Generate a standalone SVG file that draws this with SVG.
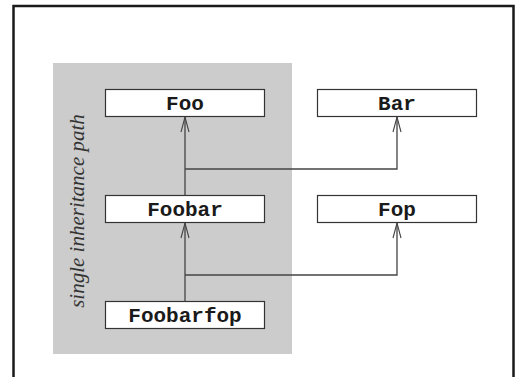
<svg xmlns="http://www.w3.org/2000/svg" width="520" height="377" viewBox="0 0 520 377">
  <style>
    .box { fill: #ffffff; stroke: #333333; stroke-width: 1.2; }
    .lbl { font-family: "Liberation Mono", "Courier New", monospace; font-weight: bold; font-size: 21px; fill: #1a1a1a; text-anchor: middle; }
    .edge { fill: none; stroke: #444444; stroke-width: 1.3; }
    .note { font-family: "Liberation Serif", "Times New Roman", serif; font-style: italic; font-size: 21px; fill: #333333; text-anchor: middle; }
  </style>
  <defs>
    <!-- open V arrowhead, tip at the path end -->
    <marker id="open" viewBox="-16 -6 17 12" refX="0" refY="0" markerWidth="17" markerHeight="12" markerUnits="userSpaceOnUse" orient="auto">
      <path d="M-15,-4 L0,0 L-15,4" fill="none" stroke="#444444" stroke-width="1.1"/>
    </marker>
  </defs>
  <rect x="0" y="0" width="520" height="377" fill="#ffffff"/>
  <!-- outer frame, open at the bottom -->
  <path d="M13.5,377 V6 H513.5 V377" fill="none" stroke="#1a1a1a" stroke-width="2.5"/>
  <!-- shaded single-inheritance region -->
  <rect x="53" y="63" width="239" height="291" fill="#cccccc"/>
  <text class="note" transform="translate(84,211) rotate(-90)">single inheritance path</text>

  <g id="connectors">
    <path class="edge" d="M185,195 V117" marker-end="url(#open)"/>
    <path class="edge" d="M185,169 H397 V117" marker-end="url(#open)"/>
    <path class="edge" d="M185,301 V223" marker-end="url(#open)"/>
    <path class="edge" d="M185,275 H397 V223" marker-end="url(#open)"/>
  </g>

  <g id="foo">
    <rect class="box" x="105.5" y="89.5" width="159" height="27"/>
    <text class="lbl" x="185" y="110">Foo</text>
  </g>
  <g id="bar">
    <rect class="box" x="317.5" y="89.5" width="159" height="27"/>
    <text class="lbl" x="397" y="110">Bar</text>
  </g>
  <g id="foobar">
    <rect class="box" x="105.5" y="195.5" width="159" height="27"/>
    <text class="lbl" x="185" y="216">Foobar</text>
  </g>
  <g id="fop">
    <rect class="box" x="317.5" y="195.5" width="159" height="27"/>
    <text class="lbl" x="397" y="216">Fop</text>
  </g>
  <g id="foobarfop">
    <rect class="box" x="105.5" y="301.5" width="159" height="27"/>
    <text class="lbl" x="185" y="322">Foobarfop</text>
  </g>
</svg>
